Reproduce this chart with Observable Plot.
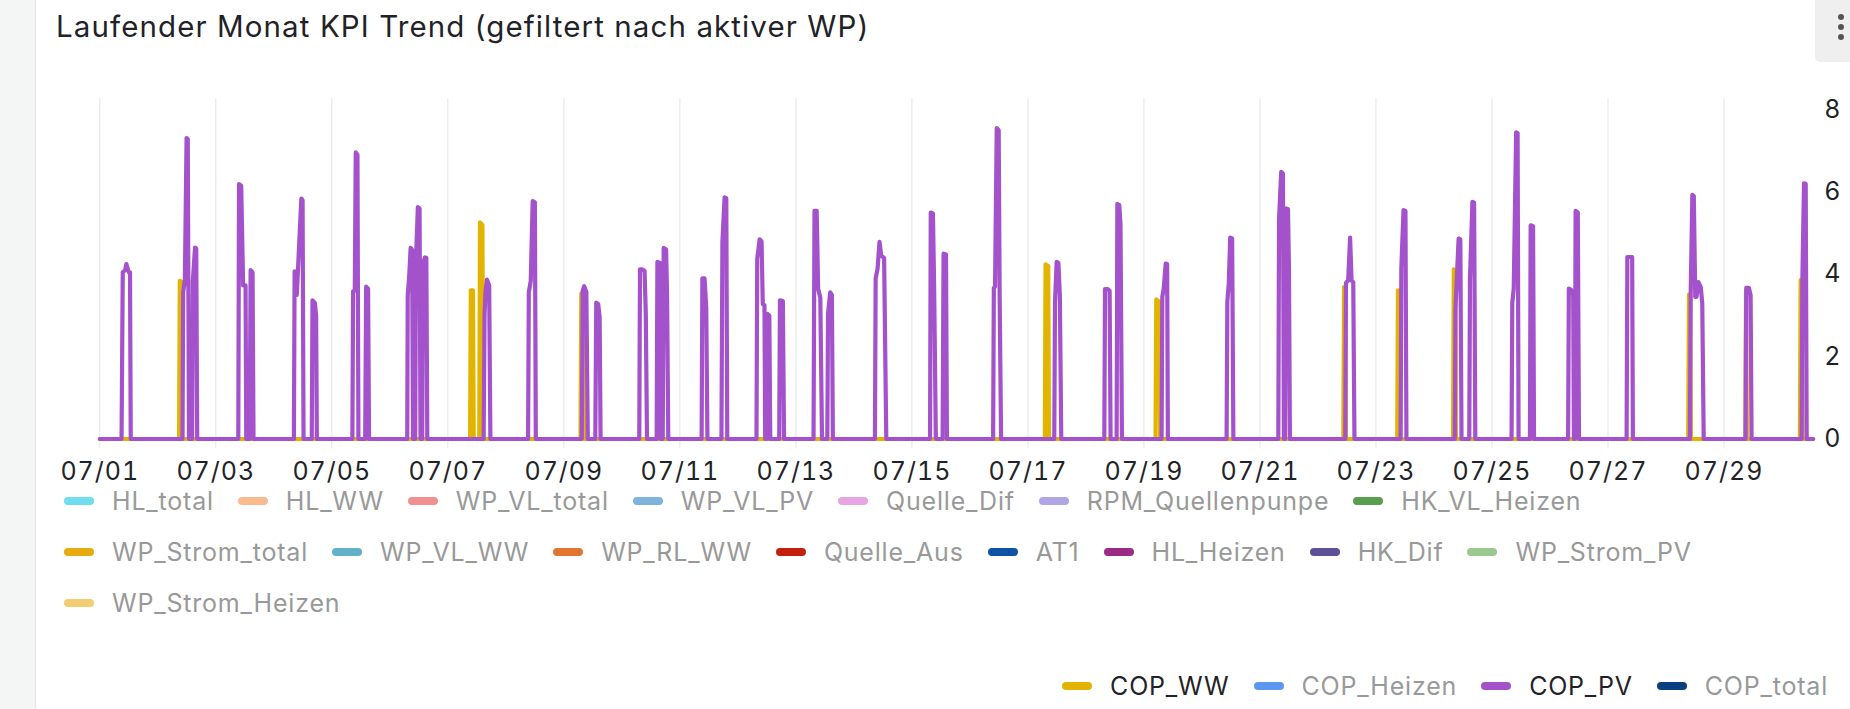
<!DOCTYPE html>
<html><head><meta charset="utf-8">
<script src="https://cdn.jsdelivr.net/npm/d3@7"></script>
<script src="https://cdn.jsdelivr.net/npm/@observablehq/plot@0.6"></script>
<style>
html,body{margin:0;padding:0;background:#fff;width:1850px;height:709px;overflow:hidden;font-family:Inter,sans-serif;}
#strip{position:absolute;left:0;top:0;width:35px;height:709px;background:#f4f5f5;border-right:1px solid #e3e4e4;}
#menu{position:absolute;left:1815px;top:0;width:40px;height:62px;background:#efefef;border-radius:0 0 0 5px;}
.dot{position:absolute;left:23px;width:6px;height:6px;border-radius:50%;background:#555;}
#title{position:absolute;left:56px;top:11px;font-size:29.5px;line-height:30px;letter-spacing:1.1px;color:#1f2328;white-space:nowrap;}
#chart{position:absolute;left:0;top:70px;}
#legend{position:absolute;left:64px;top:483px;width:1760px;display:flex;flex-wrap:wrap;row-gap:15px;}
#legend2{position:absolute;right:22px;top:668px;display:flex;}
.item{display:flex;align-items:center;height:36px;line-height:36px;font-size:25px;letter-spacing:0.8px;margin-right:24px;color:#999;white-space:nowrap;}
#legend2 .item:last-child{margin-right:0;}
.item.on{color:#1f2328;}
.sw{width:30px;height:8px;border-radius:4px;margin-right:18px;flex:none;}
</style></head>
<body>
<div id="strip"></div>
<div id="menu"><div class="dot" style="top:14px"></div><div class="dot" style="top:24px"></div><div class="dot" style="top:34px"></div></div>
<div id="title">Laufender Monat KPI Trend (gefiltert nach aktiver WP)</div>
<div id="chart"></div>
<div id="legend"></div>
<div id="legend2"></div>
<script>
// Month start (UTC) and tick labels
const monthStart = Date.UTC(2025, 6, 1);
const tickLabels = ["07/01","07/03","07/05","07/07","07/09","07/11","07/13","07/15","07/17","07/19","07/21","07/23","07/25","07/27","07/29"];
const yTicks = [0, 2, 4, 6, 8];

// Legend series (hidden series) and colours
const hiddenNames = ["HL_total","HL_WW","WP_VL_total","WP_VL_PV","Quelle_Dif","RPM_Quellenpunpe","HK_VL_Heizen","WP_Strom_total","WP_VL_WW","WP_RL_WW","Quelle_Aus","AT1","HL_Heizen","HK_Dif","WP_Strom_PV","WP_Strom_Heizen"];
const hiddenColors = ["#6fdcef","#fbb98f","#f0918f","#7fb3db","#e5a6e2","#b2a5e6","#5b9e4d","#e6ac0f","#62b1c9","#e2762f","#c21f0c","#0d52a5","#9c2a87","#5e4f9b","#9bc88e","#f4cd73"];
const copNames = ["COP_WW","COP_Heizen","COP_PV","COP_total"];
const copColors = ["#e2b400","#5c98f2","#a352cc","#0a3f80"];
const copActive = [true, false, true, false];

// COP_WW: [hours since month start, value]
const copWW = [
[0,0],
[32.8,0],[33.1,3.84],[33.8,3.82],[34.1,0],
[153.2,0],[153.5,3.61],[154.4,3.61],[154.7,0],
[157,0],[157.3,5.26],[158.3,5.2],[158.6,0],
[198.9,0],[199.2,3.53],[200,3.5],[200.3,0],
[391,0],[391.3,4.24],[392.4,4.2],[392.7,0],
[436.8,0],[437.1,3.39],[438,3.35],[438.4,3.3],[438.7,0],
[514.5,0],[514.8,3.69],[515.3,3.69],[515.6,0],
[536.8,0],[537.1,3.61],[537.7,3.6],[538,0],
[559.9,0],[560.2,4.12],[560.8,4.1],[561.1,0],
[657.2,0],[657.5,3.51],[658,3.5],[658.3,0],
[680.8,0],[681.1,3.6],[681.5,0],
[703.4,0],[703.7,3.86],[704.2,3.85],[704.5,0],
[708.9,0]
];

// COP_PV: [hours since month start, value]
const copPV = [
[0,0],
[9,0],[9.5,4.05],[10.5,4.1],[11,4.25],[12,4.05],[12.5,4.05],[12.8,0],
[34.2,0],[34.5,3.57],[35.2,3.86],[35.9,7.31],[36.4,7.28],[36.9,0],[38.2,0],[38.5,3.84],[39.4,4.65],[39.9,4.62],[40.3,0],
[57.3,0],[57.6,6.19],[58.5,6.15],[59.3,3.73],[60.3,3.73],[60.6,0],[62,0],[62.4,4.1],[63.2,4.05],[63.6,0],
[80.3,0],[80.6,4.07],[81.5,3.5],[82.6,4.87],[83.4,5.84],[83.9,5.8],[84.3,0],[87.7,0],[88,3.37],[89,3.3],[89.5,3.0],[89.8,0],
[104.5,0],[104.8,3.59],[105.5,3.6],[105.9,6.96],[106.6,6.9],[107,0],[109.8,0],[110.2,3.7],[111,3.65],[111.4,0],
[127.2,0],[127.4,3.49],[128,3.94],[128.6,4.64],[129.2,4.6],[129.6,0],[130.5,0],[130.8,4.34],[131.6,5.63],[132.3,5.6],[132.7,0],[133.4,0],[133.7,4.26],[134.5,4.41],[135.1,4.4],[135.5,0],
[158.8,0],[159.2,3.04],[159.6,3.6],[160.2,3.87],[161.1,3.73],[161.6,0],
[177.2,0],[177.5,3.56],[178.3,3.84],[179.1,5.78],[180,5.75],[180.4,0],
[199.4,0],[199.8,3.6],[200.4,3.71],[201.3,3.57],[201.9,0],
[205,0],[205.4,3.31],[206.2,3.28],[206.8,2.96],[207.2,0],
[223.2,0],[223.5,4.12],[224.5,4.12],[225.4,4.08],[225.9,3.04],[226.4,0],
[230.4,0],[230.7,4.3],[231.7,4.28],[232.1,0],[232.9,0],[233.3,4.64],[234.3,4.6],[234.7,3.49],[235.2,0],
[249,0],[249.3,3.9],[250.2,3.9],[250.9,3.21],[251.4,0],
[257.2,0],[257.6,4.79],[258.5,5.87],[259.2,5.85],[259.6,0],
[271.7,0],[272,4.37],[273,4.85],[273.8,4.8],[274.3,3.28],[275,3.25],[275.3,0],[275.9,0],[276.2,3.04],[277,3.0],[277.4,0],[281.1,0],[281.4,3.37],[282.6,3.35],[283.1,0],
[295.3,0],[295.7,5.54],[296.6,5.54],[297.2,3.65],[298.1,3.43],[298.8,0],[301,0],[301.3,3.04],[302.2,3.56],[302.9,3.5],[303.3,0],
[320.7,0],[321,3.9],[321.8,4.14],[322.6,4.79],[323.3,4.45],[324.5,4.4],[325.4,0],
[343.5,0],[343.8,5.5],[344.7,5.48],[345.2,3.68],[345.9,0],[348.7,0],[349.1,4.5],[350.1,4.48],[350.5,0],
[369.6,0],[369.9,3.67],[370.4,3.7],[371.1,7.55],[371.9,7.5],[372.3,3.49],[372.9,0],
[394.9,0],[395.2,3.31],[395.9,4.3],[396.6,4.28],[397.2,3.49],[397.8,0],
[415.6,0],[415.9,3.64],[417,3.64],[417.8,3.6],[418.2,0],[420.7,0],[421,5.71],[421.8,5.68],[422.3,5.21],[422.9,0],
[439.3,0],[439.6,3.45],[440.2,3.65],[441,4.26],[441.6,4.25],[441.9,0],
[466.2,0],[466.5,3.33],[467.1,3.77],[467.7,4.89],[468.5,4.87],[469,0],
[487.6,0],[487.9,5.34],[488.8,6.49],[489.5,6.45],[489.9,0],[490.4,0],[490.8,5.6],[491.6,5.58],[492,4.14],[492.4,0],
[515.3,0],[515.6,3.79],[516.5,3.85],[517.3,4.89],[517.9,3.85],[518.6,3.81],[519.1,0],
[538.2,0],[538.5,4.16],[539.4,5.56],[540.2,5.54],[540.6,0],
[560.6,0],[560.9,3.17],[561.3,3.69],[562.2,4.87],[562.9,4.85],[563.4,0],
[566.6,0],[566.9,3.9],[567.9,5.76],[568.6,5.74],[569.1,0],
[584.1,0],[584.4,3.31],[585,3.65],[586,7.45],[586.6,7.43],[587,0],[591.7,0],[592,5.19],[593,5.17],[593.4,0],
[607.5,0],[607.8,3.65],[608.8,3.62],[609.6,3.5],[609.9,0],[610.3,0],[610.6,5.54],[611.5,5.5],[612,0],
[631.7,0],[632,4.42],[634,4.42],[634.3,0],
[657.9,0],[658.2,3.49],[658.9,5.93],[659.5,5.9],[660.1,3.45],[660.6,3.45],[661.4,3.81],[662.4,3.69],[663,3.29],[663.6,0],
[680.9,0],[681.2,3.67],[682.3,3.67],[683,3.49],[683.4,0],
[704.1,0],[704.4,3.8],[705.1,6.21],[705.8,6.2],[706.2,0],
[708.9,0]
];

const toDate = h => new Date(monthStart + h * 3600e3);
const tickDates = tickLabels.map(s => new Date(Date.UTC(2025, +s.slice(0, 2) - 1, +s.slice(3))));
const xDomain = d3.extent(copPV, d => toDate(d[0]));
const yTop = 8.27;

const chart = Plot.plot({
  width: 1850,
  height: 413,
  marginLeft: 99.3,
  marginRight: 37.3,
  marginTop: 28,
  marginBottom: 44.5,
  style: {fontFamily: "Inter, sans-serif", fontSize: "25px", letterSpacing: "1px", color: "#1f2328", background: "transparent", overflow: "visible"},
  x: {type: "utc", domain: xDomain, label: null},
  y: {domain: [0, yTop], label: null},
  marks: [
    Plot.ruleX(tickDates, {x: d => d, y1: () => -0.23, y2: () => yTop, stroke: "#e5e5e5", strokeWidth: 1}),
    Plot.axisX({ticks: tickDates, tickFormat: d => tickLabels[tickDates.findIndex(t => +t === +d)], tickSize: 0, tickPadding: 23.5, fontSize: 25, label: null}),
    Plot.axisY({anchor: "right", ticks: yTicks, tickSize: 0, tickPadding: 11, fontSize: 25, label: null}),
    Plot.line(copWW, {x: d => toDate(d[0]), y: d => d[1], stroke: copColors[0], strokeWidth: 4.2, strokeLinejoin: "round", strokeLinecap: "round"}),
    Plot.line(copPV, {x: d => toDate(d[0]), y: d => d[1], stroke: copColors[2], strokeWidth: 4.2, strokeLinejoin: "round", strokeLinecap: "round"})
  ]
});
document.getElementById("chart").appendChild(chart);

function addItems(container, names, colors, active) {
  names.forEach((n, i) => {
    const it = document.createElement("div");
    it.className = "item" + (active && active[i] ? " on" : "");
    const sw = document.createElement("span");
    sw.className = "sw";
    sw.style.background = colors[i];
    it.appendChild(sw);
    it.appendChild(document.createTextNode(n));
    container.appendChild(it);
  });
}
addItems(document.getElementById("legend"), hiddenNames, hiddenColors, null);
addItems(document.getElementById("legend2"), copNames, copColors, copActive);
</script>
</body></html>
